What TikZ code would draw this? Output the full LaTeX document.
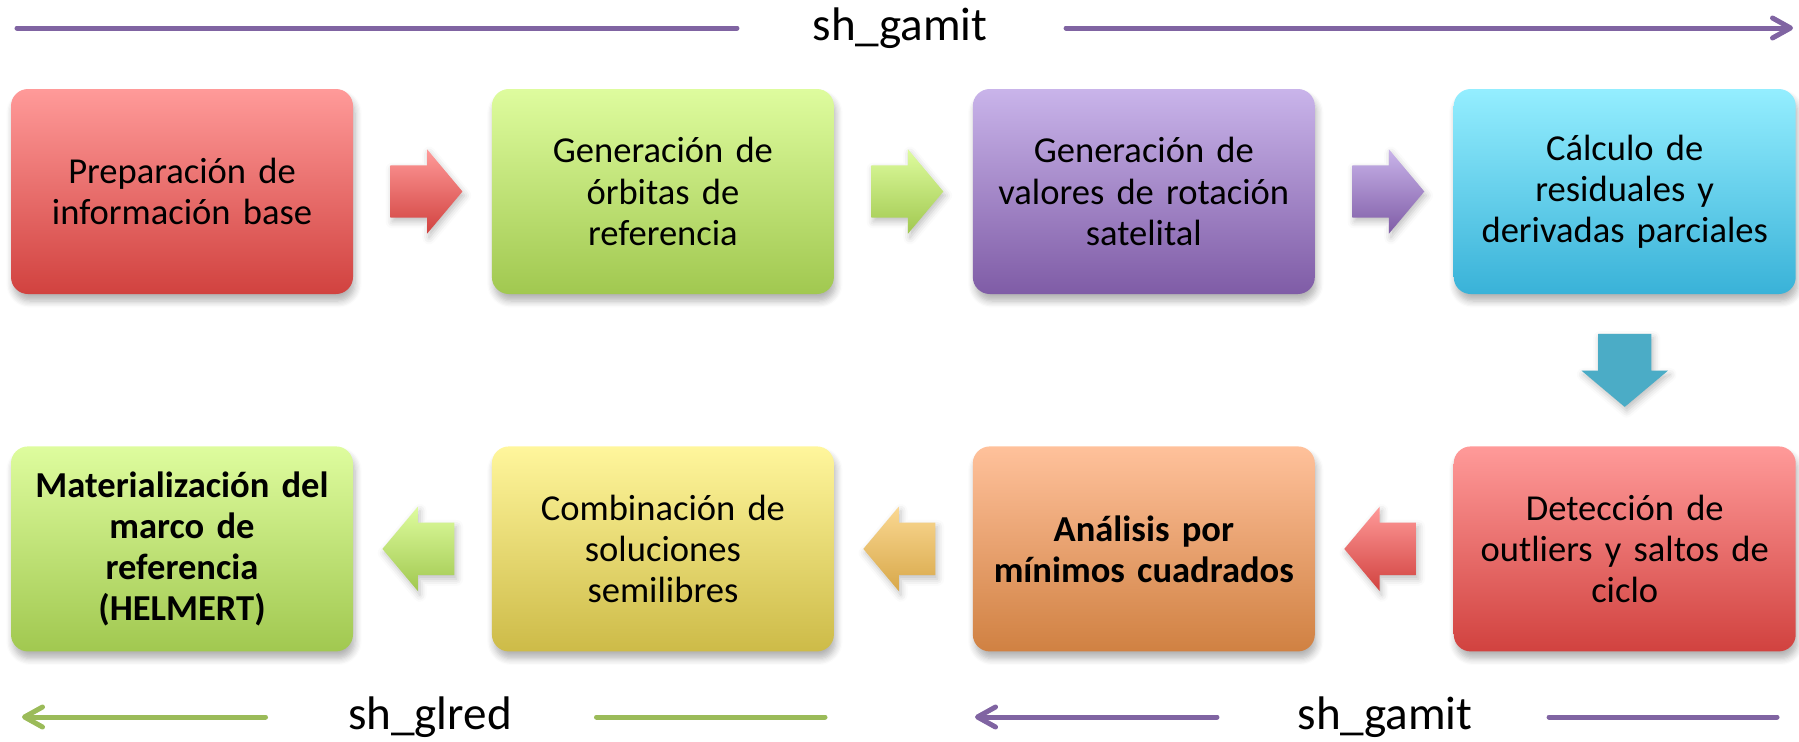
\documentclass[tikz,border=0pt]{standalone}
\usepackage{fontspec}
\setmainfont{Carlito}
\usetikzlibrary{positioning,calc,shapes.arrows,shadows.blur,arrows.meta}

\definecolor{redT}{RGB}{255,154,153}
\definecolor{redB}{RGB}{209,66,63}
\definecolor{greenT}{RGB}{222,252,158}
\definecolor{greenB}{RGB}{161,200,80}
\definecolor{purpT}{RGB}{201,180,234}
\definecolor{purpB}{RGB}{127,92,166}
\definecolor{cyanT}{RGB}{148,238,255}
\definecolor{cyanB}{RGB}{57,178,216}
\definecolor{oranT}{RGB}{255,193,155}
\definecolor{oranB}{RGB}{208,129,66}
\definecolor{yelT}{RGB}{255,246,156}
\definecolor{yelB}{RGB}{205,187,72}
\definecolor{tanT}{RGB}{250,216,146}
\definecolor{tanB}{RGB}{216,168,74}
\definecolor{downC}{RGB}{75,172,198}
\definecolor{gamitC}{RGB}{128,100,162}
\definecolor{glredC}{RGB}{155,187,89}

\tikzset{
  stepbox/.style={rectangle, rounded corners=0.17cm, minimum width=3.42cm,
    minimum height=2.05cm, text width=3.3cm, align=center, inner sep=0pt,
    font=\fontsize{10.4pt}{11.7pt}\selectfont,
    blur shadow={shadow xshift=0.02cm, shadow yshift=-0.07cm, shadow blur steps=6, shadow opacity=30}},
  blockarrow/.style={single arrow, inner xsep=0pt, inner ysep=0.255cm, minimum height=0.72cm,
    single arrow head extend=0.16cm, single arrow tip angle=100,
    blur shadow={shadow xshift=0.02cm, shadow yshift=-0.04cm, shadow blur steps=4, shadow opacity=25}},
  flowline/.style={line width=0.05cm, line cap=round},
  lbl/.style={font=\fontsize{13.4pt}{16pt}\selectfont, inner sep=0pt}
}

\begin{document}
\begin{tikzpicture}
\useasboundingbox (0,0) rectangle (17.99,7.41);

\node[stepbox, top color=redT, bottom color=redB] (b1) at (1.82,5.495) {Preparación de\\información base};
\node[stepbox, top color=greenT, bottom color=greenB, right=1.375cm of b1] (b2) {Generación de\\órbitas de\\referencia};
\node[stepbox, top color=purpT, bottom color=purpB, right=1.375cm of b2] (b3) {Generación de\\valores de rotación\\satelital};
\node[stepbox, top color=cyanT, bottom color=cyanB, right=1.375cm of b3] (b4) {Cálculo de\\residuales y\\derivadas parciales};

\node[stepbox, top color=redT, bottom color=redB, below=1.51cm of b4] (c4) {Detección de\\outliers y saltos de\\ciclo};
\node[stepbox, top color=oranT, bottom color=oranB, left=1.375cm of c4] (c3) {\textbf{Análisis por}\\\textbf{mínimos cuadrados}};
\node[stepbox, top color=yelT, bottom color=yelB, left=1.375cm of c3] (c2) {Combinación de\\soluciones\\semilibres};
\node[stepbox, top color=greenT, bottom color=greenB, left=1.375cm of c2] (c1) {\textbf{Materialización del}\\\textbf{marco de}\\\textbf{referencia}\\\textbf{(HELMERT)}};

\foreach \a/\b/\c in {b1/b2/red, b2/b3/green, b3/b4/purp}
{
\node[blockarrow, top color=\c T, bottom color=\c B, xshift=-0.07cm] (ar-\a) at ($(\a.east)!0.5!(\b.west)$) {};
}
\foreach \a/\b/\c in {c4/c3/red, c3/c2/tan, c2/c1/green}
{
\node[blockarrow, shape border rotate=180, top color=\c T, bottom color=\c B, xshift=0.07cm] (ar-\a) at ($(\a.west)!0.5!(\b.east)$) {};
}
\node[blockarrow, shape border rotate=270, minimum height=0.73cm, inner xsep=0.26cm, inner ysep=0pt,
  single arrow head extend=0.165cm, fill=downC, yshift=0.11cm] (ar-b4) at ($(b4.south)!0.5!(c4.north)$) {};

\node[lbl] (tg) at (9.00,7.13) {sh\_gamit};
\coordinate (tl) at (0.17,7.13);
\coordinate (tr) at (17.93,7.13);
\draw[flowline, gamitC] (tl) -- ([xshift=-0.75cm]tg.west);
\draw[flowline, gamitC, -{Straight Barb[length=0.18cm, width=0.2cm, round]}] ([xshift=0.78cm]tg.east) -- (tr);

\node[lbl] (bg) at (13.85,0.24) {sh\_gamit};
\coordinate (brl) at (9.75,0.24);
\coordinate (brr) at (17.77,0.24);
\draw[flowline, gamitC, -{Straight Barb[length=0.18cm, width=0.2cm, round]}] ([xshift=-0.8cm]bg.west) -- (brl);
\draw[flowline, gamitC] ([xshift=0.76cm]bg.east) -- (brr);

\node[lbl] (bl) at (4.30,0.24) {sh\_glred};
\coordinate (bll) at (0.22,0.24);
\coordinate (blr) at (8.25,0.24);
\draw[flowline, glredC, -{Straight Barb[length=0.18cm, width=0.2cm, round]}] ([xshift=-0.82cm]bl.west) -- (bll);
\draw[flowline, glredC] ([xshift=0.84cm]bl.east) -- (blr);
\end{tikzpicture}
\end{document}
